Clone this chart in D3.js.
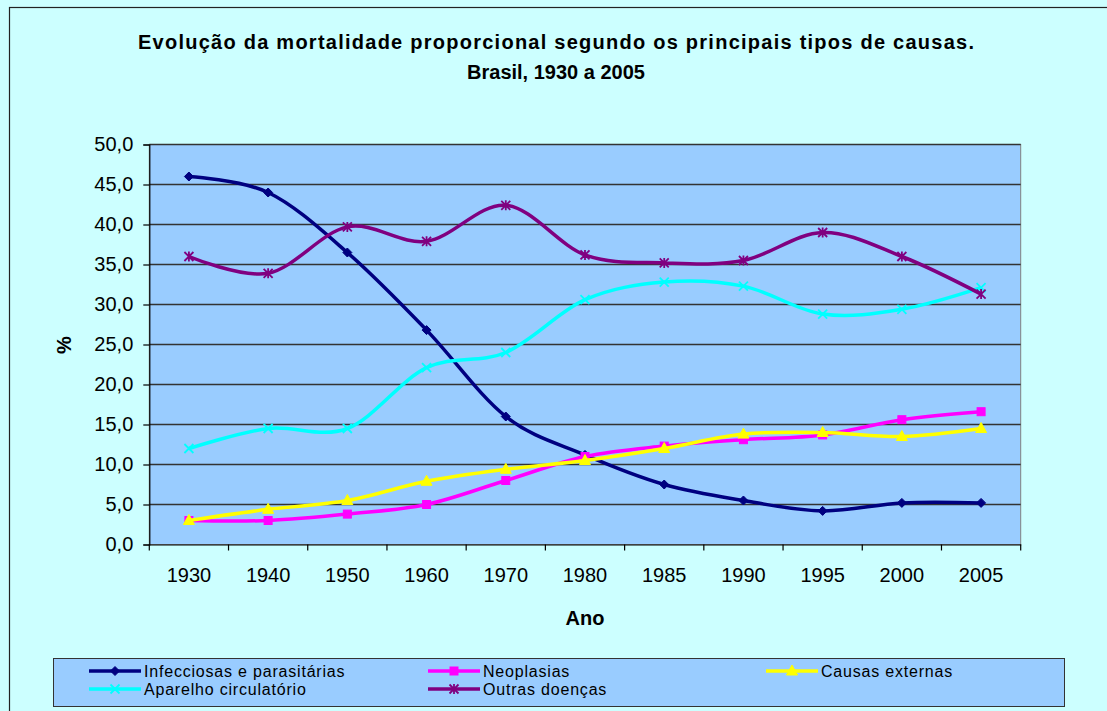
<!DOCTYPE html>
<html>
<head>
<meta charset="utf-8">
<script src="https://cdn.jsdelivr.net/npm/d3@7"></script>
<style>
  html, body { margin: 0; padding: 0; background: #CCFFFF; }
  svg { display: block; }
  text { font-family: Arial, "Liberation Sans", sans-serif; fill: #000; }
</style>
</head>
<body>
<svg id="chart" width="1107" height="711"></svg>
<script>
// ---- data ----
const years = ["1930","1940","1950","1960","1970","1980","1985","1990","1995","2000","2005"];
const infecciosas = [46.0, 44.0, 36.5, 26.8, 16.0, 11.2, 7.5, 5.5, 4.2, 5.2, 5.2];
const neoplasias  = [3.0, 3.0, 3.8, 5.0, 8.0, 11.0, 12.3, 13.1, 13.7, 15.6, 16.6];
const externas    = [3.0, 4.4, 5.5, 7.9, 9.4, 10.5, 12.0, 13.8, 14.0, 13.5, 14.5];
const circulatorio= [12.0, 14.5, 14.5, 22.1, 24.0, 30.6, 32.8, 32.3, 28.8, 29.4, 32.1];
const outras      = [36.0, 33.9, 39.7, 37.9, 42.4, 36.2, 35.2, 35.5, 39.0, 36.0, 31.3];
const yTicks = [0, 5, 10, 15, 20, 25, 30, 35, 40, 45, 50];
const seriesNames = ["Infecciosas e parasitárias","Neoplasias","Causas externas","Aparelho circulatório","Outras doenças"];
const seriesColors = ["#000080","#FF00FF","#FFFF00","#00FFFF","#800080"];
const seriesMarkers = ["diamond","square","triangle","x","star"];
const title1 = "Evolução da mortalidade proporcional segundo os principais tipos de causas.";
const title2 = "Brasil, 1930 a 2005";
const xTitle = "Ano";
const yTitle = "%";

const series = [infecciosas, neoplasias, externas, circulatorio, outras].map((vals, i) => ({
  name: seriesNames[i], color: seriesColors[i], marker: seriesMarkers[i], values: vals
}));

// ---- layout ----
const svg = d3.select("#chart");
const plot = { left: 149.3, right: 1020.7, top: 144.5, bottom: 544.5 };

// outer chart border
svg.append("rect").attr("x", 9.5).attr("y", 7.5).attr("width", 1200).attr("height", 800)
  .attr("fill", "#CCFFFF").attr("stroke", "#222").attr("stroke-width", 1.2);

const x = d3.scaleBand().domain(years).range([plot.left, plot.right]).padding(0);
const y = d3.scaleLinear().domain([0, 50]).range([plot.bottom, plot.top]);
const cx = d => x(d) + x.bandwidth() / 2;

// plot area
svg.append("rect").attr("x", plot.left).attr("y", plot.top)
  .attr("width", plot.right - plot.left).attr("height", plot.bottom - plot.top)
  .attr("fill", "#99CCFF").attr("stroke", "#808080").attr("stroke-width", 1);

// gridlines
svg.append("g").selectAll("line").data(yTicks.filter(t => t > 0)).join("line")
  .attr("x1", plot.left).attr("x2", plot.right)
  .attr("y1", d => y(d)).attr("y2", d => y(d))
  .attr("stroke", "#333").attr("stroke-width", 1.3);

// y axis
const yAxis = svg.append("g").attr("transform", `translate(${plot.left},0)`)
  .call(d3.axisLeft(y).tickValues(yTicks).tickSize(6).tickPadding(10)
    .tickFormat(d => d.toFixed(1).replace(".", ",")));
yAxis.select(".domain").attr("stroke", "#000").attr("stroke-width", 1.2);
yAxis.selectAll(".tick line").attr("stroke", "#000").attr("stroke-width", 1.2);
yAxis.selectAll("text").style("font-size", "20px").attr("fill", "#000");

// x axis (labels centered in bands, ticks at band boundaries)
const xAxis = svg.append("g").attr("transform", `translate(0,${plot.bottom})`)
  .call(d3.axisBottom(x).tickSize(0).tickPadding(23));
xAxis.select(".domain").attr("stroke", "#000").attr("stroke-width", 1.2);
xAxis.selectAll("text").style("font-size", "20px").attr("fill", "#000");
const boundaries = years.map(d => x(d)).concat([x(years[years.length - 1]) + x.bandwidth()]);
svg.append("g").selectAll("line").data(boundaries).join("line")
  .attr("x1", d => d).attr("x2", d => d)
  .attr("y1", plot.bottom).attr("y2", plot.bottom + 6)
  .attr("stroke", "#000").attr("stroke-width", 1.2);

// titles
svg.append("text").attr("x", 556).attr("y", 49).attr("text-anchor", "middle")
  .attr("textLength", 836).attr("lengthAdjust", "spacing")
  .style("font-size", "20px").style("font-weight", "bold").text(title1);
svg.append("text").attr("x", 556).attr("y", 79).attr("text-anchor", "middle")
  .style("font-size", "20px").style("font-weight", "bold").text(title2);
svg.append("text").attr("x", 585).attr("y", 625).attr("text-anchor", "middle")
  .style("font-size", "20px").style("font-weight", "bold").text(xTitle);
svg.append("text").attr("transform", "translate(71,345) rotate(-90)").attr("text-anchor", "middle")
  .style("font-size", "20px").style("font-weight", "bold").text(yTitle);

// markers
function drawMarker(g, type, color, px, py) {
  const s = 4.5;
  if (type === "diamond") {
    g.append("path").attr("d", `M${px},${py - s}L${px + s},${py}L${px},${py + s}L${px - s},${py}Z`)
      .attr("fill", color).attr("stroke", color);
  } else if (type === "square") {
    g.append("rect").attr("x", px - 4).attr("y", py - 4).attr("width", 8).attr("height", 8)
      .attr("fill", color).attr("stroke", color);
  } else if (type === "triangle") {
    g.append("path").attr("d", `M${px},${py - 6}L${px + 5.5},${py + 4}L${px - 5.5},${py + 4}Z`)
      .attr("fill", color).attr("stroke", color);
  } else if (type === "x") {
    g.append("path").attr("d", `M${px - 4.5},${py - 4.5}L${px + 4.5},${py + 4.5}M${px - 4.5},${py + 4.5}L${px + 4.5},${py - 4.5}`)
      .attr("fill", "none").attr("stroke", color).attr("stroke-width", 1.8);
  } else if (type === "star") {
    g.append("path").attr("d", `M${px - 4.5},${py - 4.5}L${px + 4.5},${py + 4.5}M${px - 4.5},${py + 4.5}L${px + 4.5},${py - 4.5}M${px},${py - 5}L${px},${py + 5}`)
      .attr("fill", "none").attr("stroke", color).attr("stroke-width", 1.8);
  }
}

// series lines
const line = d3.line().x((d, i) => cx(years[i])).y(d => y(d)).curve(d3.curveCatmullRom.alpha(0));
series.forEach(s => {
  const g = svg.append("g");
  g.append("path").datum(s.values).attr("d", line)
    .attr("fill", "none").attr("stroke", s.color).attr("stroke-width", 3.5)
    .attr("stroke-linejoin", "round");
  s.values.forEach((v, i) => drawMarker(g, s.marker, s.color, cx(years[i]), y(v)));
});

// legend
svg.append("rect").attr("x", 53.5).attr("y", 658.5).attr("width", 1011).attr("height", 48)
  .attr("fill", "#99CCFF").attr("stroke", "#333").attr("stroke-width", 1);
const legendPos = [
  { x: 89, y: 671 }, { x: 428, y: 671 }, { x: 766, y: 671 },
  { x: 89, y: 689 }, { x: 428, y: 689 }
];
series.forEach((s, i) => {
  const p = legendPos[i];
  const g = svg.append("g");
  g.append("line").attr("x1", p.x).attr("x2", p.x + 52).attr("y1", p.y).attr("y2", p.y)
    .attr("stroke", s.color).attr("stroke-width", 3.5);
  drawMarker(g, s.marker, s.color, p.x + 26, p.y);
  g.append("text").attr("x", p.x + 55).attr("y", p.y + 6)
    .style("font-size", "16px").style("letter-spacing", "0.8px").text(s.name);
});
</script>
</body>
</html>
